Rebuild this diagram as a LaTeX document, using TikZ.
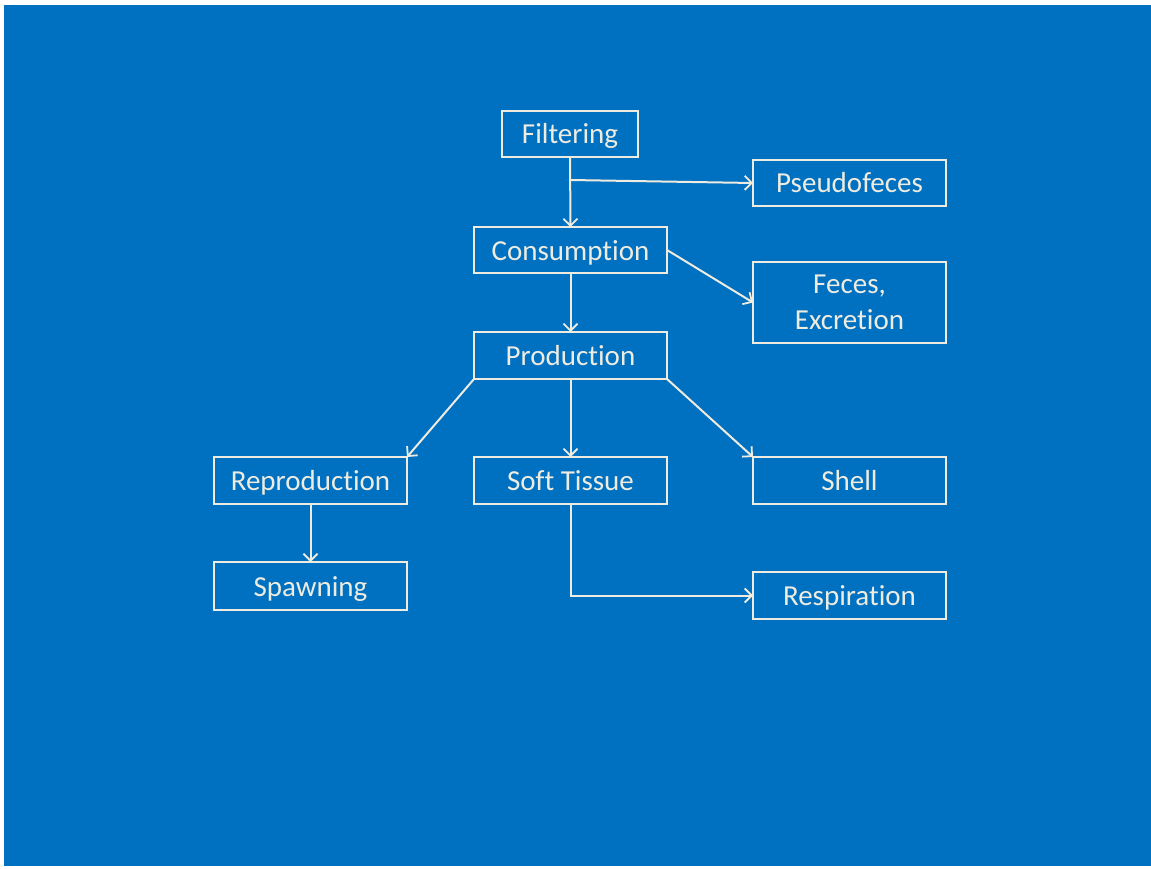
\documentclass[tikz,border=0pt]{standalone}
\usepackage{fontspec}
\setmainfont{Carlito}[Ligatures={NoCommon}]
\usetikzlibrary{arrows, arrows.meta}

\definecolor{fond}{HTML}{0070C0}
\definecolor{trait}{HTML}{EEECE1}

\begin{document}
\begin{tikzpicture}[x=1pt, y=-1pt,
	boite/.style={draw=trait, line width=1.8pt, text=trait, inner sep=0pt, outer sep=0pt,
		minimum width=193pt, minimum height=47pt, align=center,
		font=\fontsize{29}{36}\selectfont},
	simple/.style={boite, text height=22pt, text depth=2pt},
	fleche/.style={-{Straight Barb[length=7pt, width=14pt, line width=1.8pt]}, draw=trait, line width=2pt}]
	%le fond
	\useasboundingbox (0,0) rectangle (1151,869);
	\fill[white] (0,0) rectangle (1151,869);
	\fill[fond] (4,5) rectangle (1151,866);
	%les boites
	\node[simple, minimum width=136pt, minimum height=46pt] (filtre) at (570,134) {Filtering};
	\node[simple, minimum height=46pt] (pseudo) at (849.5,183) {Pseudofeces};
	\node[simple, minimum height=46pt] (conso) at (570.5,250) {Consumption};
	\node[boite, minimum height=81pt] (feces) at (849.5,302.5) {Feces,\\Excretion};
	\node[simple] (prod) at (570.5,355.5) {Production};
	\node[simple] (repro) at (310.5,480.5) {Reproduction};
	\node[simple] (tissu) at (570.5,480.5) {Soft Tissue};
	\node[simple] (coquille) at (849.5,480.5) {Shell};
	\node[simple, minimum height=48pt] (ponte) at (310.5,586) {Spawning};
	\node[simple] (resp) at (849.5,595.5) {Respiration};
	\coordinate (embr) at (570,180);
	%les fleches
	\draw[fleche] (filtre.south) -- (conso.north);
	\draw[fleche] (embr) -- (pseudo.west);
	\draw[fleche] (conso.east) -- (feces.west);
	\draw[fleche] (conso.south) -- (prod.north);
	\draw[fleche] (prod.south west) -- (repro.north east);
	\draw[fleche] (prod.south) -- (tissu.north);
	\draw[fleche] (prod.south east) -- (coquille.north west);
	\draw[fleche] (repro.south) -- (ponte.north);
	\draw[fleche] (tissu.south) |- (resp.west);
\end{tikzpicture}
\end{document}
